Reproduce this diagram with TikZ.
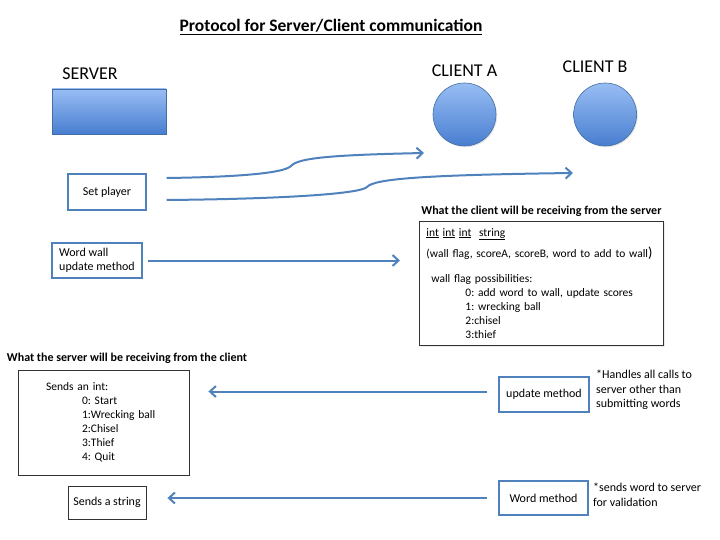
\documentclass[tikz,border=0pt]{standalone}
\usepackage{fontspec}
\setmainfont{Carlito}
\usepackage{tikz}
\usetikzlibrary{arrows.meta, positioning, calc, shadows}
\frenchspacing

\definecolor{officeblue}{RGB}{79,129,189}
\definecolor{fillhi}{RGB}{152,189,244}
\definecolor{filllo}{RGB}{72,126,208}

\begin{document}
\begin{tikzpicture}[
    x=1pt, y=-1pt,
    box/.style={draw=officeblue, line width=1.2pt, fill=white, align=center, inner sep=3pt,
        font=\fontsize{12}{14.5}\selectfont, drop shadow={opacity=0.15, shadow xshift=1.2pt, shadow yshift=-1.2pt}},
    plainbox/.style={draw=black!80, line width=0.9pt, fill=white, align=left, inner sep=3pt,
        font=\fontsize{11.5}{14}\selectfont, drop shadow={opacity=0.15, shadow xshift=1.2pt, shadow yshift=-1.2pt}},
    blob/.style={draw=officeblue!85!black, line width=0.6pt, top color=fillhi, bottom color=filllo,
        drop shadow={opacity=0.2, shadow xshift=1.2pt, shadow yshift=-1.2pt}},
    heading/.style={font=\bfseries\fontsize{12}{14}\selectfont, inner sep=0pt},
    bigtext/.style={font=\fontsize{18}{21}\selectfont, inner sep=0pt},
    note/.style={font=\fontsize{12}{14.5}\selectfont, align=left, inner sep=0pt},
    arrow/.style={-{Straight Barb[length=6pt,width=11pt]}, line width=2pt, draw=officeblue}
]
    \useasboundingbox (0,0) rectangle (720,540);

    % Title
    \node[font=\bfseries\fontsize{17.5}{20}\selectfont, inner sep=0pt] (title) at (331,27)
        {\underline{Protocol for Server/Client communication}};

    % Server and the two clients
    \node[blob, minimum width=114pt, minimum height=45pt] (server) at (109,111.5) {};
    \node[bigtext, above=9pt of server, xshift=-19pt] (serverlbl) {SERVER};

    \node[blob, circle, minimum size=63pt, inner sep=0pt] (clientA) at (464.5,114.5) {};
    \node[blob, circle, minimum size=63pt, inner sep=0pt, right=77pt of clientA] (clientB) {};
    \node[bigtext, above=6pt of clientA] (clientAlbl) {CLIENT A};
    \node[bigtext, above=10pt of clientB, xshift=-10pt] (clientBlbl) {CLIENT B};

    % Set player
    \node[box, minimum width=78pt, minimum height=36pt] (setplayer) at (107,192) {Set player};
    \coordinate (spA) at ($(setplayer.east)+(20,-14)$);
    \coordinate (spB) at ($(setplayer.east)+(20,8)$);
    \coordinate (toA) at (424,153);
    \coordinate (toB) at (573,173);
    \draw[arrow] (spA) .. controls (240,177) and (284,173) .. (291,166)
        .. controls (298,158) and (330,155) .. (toA);
    \draw[arrow] (spB) .. controls (280,199) and (360,194) .. (367,187)
        .. controls (374,179) and (420,175) .. (toB);

    % What the client receives
    \node[plainbox, minimum width=244pt, minimum height=124pt, text width=230pt, anchor=north west] (bigbox) at (419,221) {
        \underline{int} \underline{int} \underline{int}\ \ \underline{string}\\[6pt]
        (wall flag, scoreA, scoreB, word to add to wall{\Large )}\\[11pt]
        \hspace*{5pt}wall flag possibilities:\\
        \hspace*{39pt}0: add word to wall, update scores\\
        \hspace*{39pt}1: wrecking ball\\
        \hspace*{39pt}2:chisel\\
        \hspace*{39pt}3:thief
    };
    \node[heading, above=4pt of bigbox] (clienthead) {What the client will be receiving from the server};

    \node[box, align=left, minimum width=90pt, minimum height=35pt] (wordwall) at (97,260.5) {Word wall\\update method};
    \draw[arrow, shorten <=5pt, shorten >=19pt] (wordwall.east) -- (wordwall.east -| bigbox.west);

    % What the server receives
    \node[heading] (serverhead) at (127,358) {What the server will be receiving from the client};
    \node[plainbox, minimum width=171pt, minimum height=105pt, text width=115pt] (sendint) at (103.5,422.5) {
        Sends an int:\\
        \hspace*{36pt}0: Start\\
        \hspace*{36pt}1:Wrecking ball\\
        \hspace*{36pt}2:Chisel\\
        \hspace*{36pt}3:Thief\\
        \hspace*{36pt}4: Quit\\[14pt]
    };
    \node[plainbox, align=center, font=\fontsize{12}{14.5}\selectfont, minimum width=78pt, minimum height=33pt] (sendstr) at (107,502.5) {Sends a string};

    \node[box, minimum width=90pt, minimum height=35pt] (update) at (544,394.5) {update method};
    \node[box, minimum width=89pt, minimum height=34pt] (word) at (543.5,498) {Word method};
    \node[note, anchor=north west] (updnote) at (596,370) {*Handles all calls to\\server other than\\submitting words};
    \node[note, anchor=north west] (wordnote) at (593,483) {*sends word to server\\for validation};

    \draw[arrow, shorten <=11pt, shorten >=19pt] ([yshift=3pt]update.west) -- ([yshift=3pt]update.west -| sendint.east);
    \draw[arrow, shorten <=11pt, shorten >=21pt] (word.west) -- (word.west -| sendstr.east);
\end{tikzpicture}
\end{document}
